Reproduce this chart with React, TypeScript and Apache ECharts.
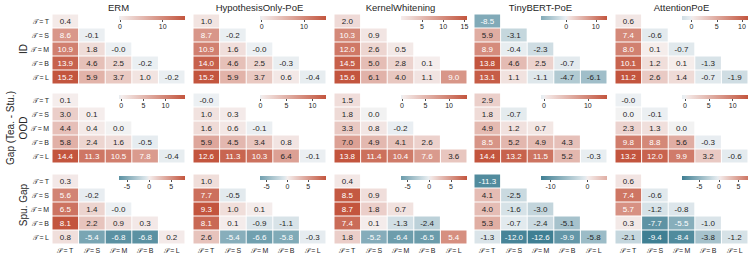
import React, { useEffect, useRef } from "react";
import * as echarts from "echarts";

const PANEL_TITLES = ["ERM", "HypothesisOnly-PoE", "KernelWhitening", "TinyBERT-PoE", "AttentionPoE"];
const ROW_TITLES = ["ID", "OOD", "Spu. Gap"];
const GROUP_TITLE = "Gap (Tea. - Stu.)";
const TEACHERS = ["T", "S", "M", "B", "L"];
const STUDENTS = ["T", "S", "M", "B", "L"];

// ID gap (rows: teacher T..L, cols: student T..)
const ID_ERM = [[0.4], [8.6, -0.1], [10.9, 1.8, -0.02], [13.9, 4.6, 2.5, -0.2], [15.2, 5.9, 3.7, 1.0, -0.2]];
const ID_HYP = [[1.0], [8.7, -0.2], [10.9, 1.6, -0.02], [14.0, 4.6, 2.5, -0.3], [15.2, 5.9, 3.7, 0.6, -0.4]];
const ID_KW = [[2.0], [10.3, 0.9], [12.0, 2.6, 0.5], [14.5, 5.0, 2.8, 0.1], [15.6, 6.1, 4.0, 1.1, 9.0]];
const ID_TB = [[-8.5], [5.9, -3.1], [8.9, -0.4, -2.3], [13.8, 4.6, 2.5, -0.7], [13.1, 1.1, -1.1, -4.7, -6.1]];
const ID_ATT = [[0.6], [7.4, -0.6], [8.0, 0.1, -0.7], [10.1, 1.2, 0.1, -1.3], [11.2, 2.6, 1.4, -0.7, -1.9]];
// OOD gap
const OOD_ERM = [[0.1], [3.0, 0.1], [4.4, 0.4, 0.0], [5.8, 2.4, 1.6, -0.5], [14.4, 11.3, 10.5, 7.8, -0.4]];
const OOD_HYP = [[-0.02], [1.0, 0.3], [1.6, 0.6, -0.1], [5.9, 4.5, 3.4, 0.8], [12.6, 11.3, 10.3, 6.4, -0.1]];
const OOD_KW = [[1.5], [1.8, 0.0], [3.3, 0.8, -0.2], [7.0, 4.9, 4.1, 2.6], [13.8, 11.4, 10.4, 7.6, 3.6]];
const OOD_TB = [[2.9], [1.8, -0.7], [4.9, 1.2, 0.7], [8.5, 5.2, 4.9, 4.3], [14.4, 13.2, 11.5, 5.2, -0.3]];
const OOD_ATT = [[-0.02], [0.0, -0.1], [2.3, 1.3, 0.0], [9.8, 8.8, 5.6, -0.3], [13.2, 12.0, 9.9, 3.2, -0.6]];
// Spurious gap
const SPU_ERM = [[0.3], [5.6, -0.2], [6.5, 1.4, -0.02], [8.1, 2.2, 0.9, 0.3], [0.8, -5.4, -6.8, -6.8, 0.2]];
const SPU_HYP = [[1.0], [7.7, -0.5], [9.3, 1.0, 0.1], [8.1, 0.1, -0.9, -1.1], [2.6, -5.4, -6.6, -5.8, -0.3]];
const SPU_KW = [[0.4], [8.5, 0.9], [8.7, 1.8, 0.7], [7.4, 0.1, -1.3, -2.4], [1.8, -5.2, -6.4, -6.5, 5.4]];
const SPU_TB = [[-11.3], [4.1, -2.5], [4.0, -1.6, -3.0], [5.3, -0.7, -2.4, -5.1], [-1.3, -12.0, -12.6, -9.9, -5.8]];
const SPU_ATT = [[0.6], [7.4, -0.6], [5.7, -1.2, -0.8], [0.3, -7.7, -5.5, -1.0], [-2.1, -9.4, -8.4, -3.8, -1.2]];

const ROWS = [
  [ID_ERM, ID_HYP, ID_KW, ID_TB, ID_ATT],
  [OOD_ERM, OOD_HYP, OOD_KW, OOD_TB, OOD_ATT],
  [SPU_ERM, SPU_HYP, SPU_KW, SPU_TB, SPU_ATT],
];

// colorbar tick labels
const ID_TICKS = [[0, 10], [0, 10], [5, 10, 15], [0, 10], [0, 5, 10]];
const OOD_TICKS = [[0, 5, 10], [0, 5, 10], [0, 5, 10], [0, 10], [0, 5, 10]];
const SPU_TICKS = [[-5, 0, 5], [-5, 0, 5], [-5, 0, 5], [-10, 0], [-5, 0, 5]];
const TICKS = [ID_TICKS, OOD_TICKS, SPU_TICKS];

// layout
const PANEL_X = [52, 193, 334, 474, 615];
const PANEL_W = 133;
const ROW_Y = [14, 93, 174];
const PANEL_H = 70;
const FONT = "'Liberation Sans', Arial, Helvetica, sans-serif";
const INK = "#262626";

const BLUE = [63, 127, 147];
const BLUE_L = [236, 240, 243];
const GRAY = [242, 242, 242];
const RED_L = [245, 238, 237];
const RED = [195, 85, 62];

function lerp(a: number[], b: number[], f: number) {
  return a.map((v, i) => v + (b[i] - v) * f);
}
function cmap(t: number): number[] {
  if (t < 0) return lerp(BLUE_L, BLUE, Math.min(1, -t));
  if (t > 0) return lerp(RED_L, RED, Math.min(1, t));
  return GRAY;
}
function rgb(c: number[]) {
  return `rgb(${Math.round(c[0])},${Math.round(c[1])},${Math.round(c[2])})`;
}
function lum(c: number[]) {
  const f = (v: number) => {
    v /= 255;
    return v <= 0.03928 ? v / 12.92 : Math.pow((v + 0.055) / 1.055, 2.4);
  };
  return 0.2126 * f(c[0]) + 0.7152 * f(c[1]) + 0.0722 * f(c[2]);
}

function buildOption() {
  const grid: any[] = [];
  const xAxis: any[] = [];
  const yAxis: any[] = [];
  const series: any[] = [];
  const graphic: any[] = [];

  PANEL_TITLES.forEach((t, c) => {
    graphic.push({
      type: "text",
      x: PANEL_X[c] + PANEL_W / 2,
      y: 7,
      style: { text: t, fontSize: 9.5, fontFamily: FONT, fill: INK, textAlign: "center", textVerticalAlign: "middle" },
    });
  });
  ROW_TITLES.forEach((t, r) => {
    graphic.push({
      type: "text",
      x: 23,
      y: ROW_Y[r] + PANEL_H / 2 - (r === 2 ? 4 : 0),
      rotation: Math.PI / 2,
      style: { text: t, fontSize: 10, fontFamily: FONT, fill: INK, textAlign: "center", textVerticalAlign: "middle" },
    });
  });
  graphic.push({
    type: "text",
    x: 10,
    y: ROW_Y[1] + PANEL_H / 2,
    rotation: Math.PI / 2,
    style: { text: GROUP_TITLE, fontSize: 10, fontFamily: FONT, fill: INK, textAlign: "center", textVerticalAlign: "middle" },
  });

  ROWS.forEach((row, r) => {
    row.forEach((mat, c) => {
      const vals = mat.flat();
      const vmin = Math.min(...vals);
      const vmax = Math.max(...vals);
      const vr = Math.max(Math.abs(vmin), Math.abs(vmax));

      // heatmap grid
      const gi = grid.length;
      grid.push({ left: PANEL_X[c], top: ROW_Y[r], width: PANEL_W, height: PANEL_H });
      xAxis.push({
        type: "category",
        gridIndex: gi,
        data: STUDENTS,
        axisLine: { show: false },
        axisTick: { show: false },
        splitLine: { show: false },
        axisLabel: {
          show: r === 2,
          formatter: (v: string) => "\u{1D4AE}\u2009=\u2009" + v,
          fontSize: 7,
          margin: 3,
          color: INK,
          fontFamily: FONT,
        },
      });
      yAxis.push({
        type: "category",
        gridIndex: gi,
        data: TEACHERS,
        inverse: true,
        axisLine: { show: false },
        axisTick: { show: false },
        splitLine: { show: false },
        axisLabel: {
          show: c === 0,
          formatter: (v: string) => "\u{1D4AF}\u2009=\u2009" + v,
          fontSize: 7,
          margin: 3,
          color: INK,
          fontFamily: FONT,
        },
      });
      const data: any[] = [];
      mat.forEach((rowVals, i) => {
        rowVals.forEach((v, j) => {
          data.push([j, i, v]);
        });
      });
      series.push({
        type: "custom",
        xAxisIndex: gi,
        yAxisIndex: gi,
        data,
        encode: { x: 0, y: 1 },
        silent: true,
        renderItem: (params: any, api: any) => {
          const v = api.value(2);
          const ctr = api.coord([api.value(0), api.value(1)]);
          const sz = api.size([1, 1]);
          const col = cmap(v / vr);
          return {
            type: "group",
            children: [
              {
                type: "rect",
                shape: { x: ctr[0] - sz[0] / 2 + 0.5, y: ctr[1] - sz[1] / 2 + 0.5, width: sz[0] - 1, height: sz[1] - 1 },
                style: { fill: rgb(col) },
              },
              {
                type: "text",
                style: {
                  text: Number(v).toFixed(1),
                  x: ctr[0],
                  y: ctr[1],
                  textAlign: "center",
                  textVerticalAlign: "middle",
                  fontSize: 8,
                  fontFamily: FONT,
                  fill: lum(col) > 0.408 ? INK : "#ffffff",
                },
              },
            ],
          };
        },
      });

      // colorbar grid
      const ci = grid.length;
      grid.push({ left: PANEL_X[c] + 67, top: ROW_Y[r] + 2, width: PANEL_W - 67, height: 4 });
      const ticks = TICKS[r][c];
      xAxis.push({
        type: "value",
        gridIndex: ci,
        min: vmin,
        max: vmax,
        axisLine: { show: false },
        splitLine: { show: false },
        axisTick: { show: true, customValues: ticks, length: 2, lineStyle: { color: INK, width: 0.8 } },
        axisLabel: { customValues: ticks, fontSize: 7, margin: 3, color: INK, fontFamily: FONT },
      });
      yAxis.push({ type: "value", gridIndex: ci, min: 0, max: 1, show: false });
      const stops: any[] = [];
      const N = 24;
      for (let k = 0; k <= N; k++) {
        const v = vmin + ((vmax - vmin) * k) / N;
        stops.push({ offset: k / N, color: rgb(cmap(v / vr)) });
      }
      series.push({
        type: "custom",
        xAxisIndex: ci,
        yAxisIndex: ci,
        data: [[vmin, vmax, 0, 1]],
        encode: { x: [0, 1], y: [2, 3] },
        silent: true,
        renderItem: (params: any, api: any) => {
          const p0 = api.coord([api.value(0), api.value(2)]);
          const p1 = api.coord([api.value(1), api.value(3)]);
          return {
            type: "rect",
            shape: { x: p0[0], y: p1[1], width: p1[0] - p0[0], height: p0[1] - p1[1] },
            style: { fill: new echarts.graphic.LinearGradient(0, 0, 1, 0, stops) },
          };
        },
      });
    });
  });

  return {
    animation: false,
    backgroundColor: "#ffffff",
    textStyle: { fontFamily: FONT },
    grid,
    xAxis,
    yAxis,
    series,
    graphic,
  };
}

export default function App() {
  const ref = useRef<HTMLDivElement>(null);
  useEffect(() => {
    if (!ref.current) return;
    const chart = echarts.init(ref.current, undefined, { renderer: "svg" });
    chart.setOption(buildOption() as any);
    return () => chart.dispose();
  }, []);
  return <div ref={ref} style={{ position: "fixed", left: 0, top: 0, width: 753, height: 257 }} />;
}
